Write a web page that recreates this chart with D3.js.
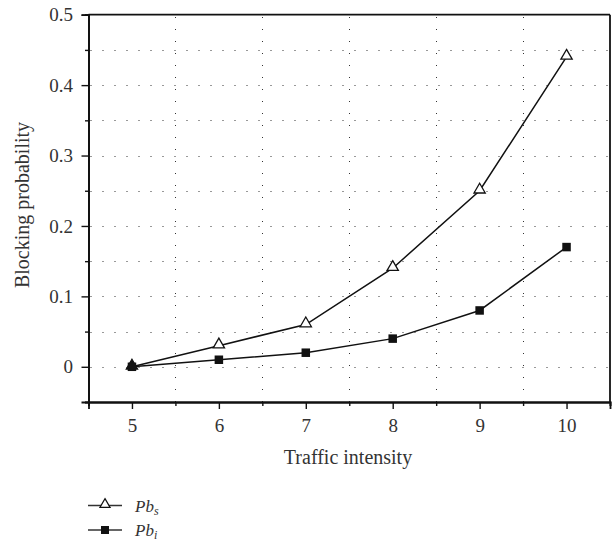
<!DOCTYPE html>
<html><head><meta charset="utf-8">
<script src="https://cdn.jsdelivr.net/npm/d3@7"></script>
<style>body{margin:0;background:#fff}svg{display:block}text{font-family:"Liberation Serif","Times New Roman",serif !important;fill:#333}</style>
</head><body><svg id="c" width="616" height="541"></svg>
<script>
const xValues = [5, 6, 7, 8, 9, 10];
const pbS = [0, 0.03, 0.06, 0.14, 0.25, 0.44];
const pbI = [0, 0.01, 0.02, 0.04, 0.08, 0.17];
const xTickLabels = ["5", "6", "7", "8", "9", "10"];
const yTickValues = [0, 0.1, 0.2, 0.3, 0.4, 0.5];
const yTickLabels = ["0", "0.1", "0.2", "0.3", "0.4", "0.5"];
const xMinor = [4.5, 5.5, 6.5, 7.5, 8.5, 9.5, 10.5];
const yMinor = [-0.05, 0.05, 0.15, 0.25, 0.35, 0.45];

const FONT = '"Liberation Serif","Times New Roman",serif';
const svg = d3.select("#c");
const L = 88.5, R = 610, T = 14.7, B = 402;
const x = d3.scaleLinear().domain([4.5, 10.5]).range([L, R]);
const y = d3.scaleLinear().domain([-0.05, 0.5]).range([B, T]);

// grid
const g = svg.append("g");
const hGrid = yMinor.concat(yTickValues).filter(v => v > -0.05 && v < 0.5);
g.selectAll(".hg").data(hGrid).join("line")
  .attr("x1", L + 2).attr("x2", R).attr("y1", d => Math.round(y(d)) + 0.5).attr("y2", d => Math.round(y(d)) + 0.5)
  .attr("stroke", "#333").attr("stroke-width", 1).attr("stroke-dasharray", "1,11");
g.selectAll(".vg").data(xMinor.filter(v => v > 4.5 && v < 10.5)).join("line")
  .attr("y1", B).attr("y2", T).attr("x1", d => Math.round(x(d)) + 0.5).attr("x2", d => Math.round(x(d)) + 0.5)
  .attr("stroke", "#333").attr("stroke-width", 1).attr("stroke-dasharray", "1,11");

// frame top/right
svg.append("line").attr("x1", L).attr("x2", R).attr("y1", T).attr("y2", T).attr("stroke", "#111").attr("stroke-width", 1.8);
svg.append("line").attr("x1", R).attr("x2", R).attr("y1", T).attr("y2", B).attr("stroke", "#111").attr("stroke-width", 1.8);

// axes
const xAxis = d3.axisBottom(x).tickValues(xValues).tickFormat((d, i) => xTickLabels[i]).tickSize(7).tickPadding(9.5);
svg.append("g").attr("class", "ax").attr("transform", `translate(0,${B})`).call(xAxis);
const xMinAxis = d3.axisBottom(x).tickValues(xMinor).tickFormat("").tickSize(4);
svg.append("g").attr("class", "ax").attr("transform", `translate(0,${B})`).call(xMinAxis);

const yAxis = d3.axisLeft(y).tickValues(yTickValues).tickFormat((d, i) => yTickLabels[i]).tickSize(7).tickPadding(8.5);
svg.append("g").attr("class", "ax").attr("transform", `translate(${L},0)`).call(yAxis);
const yMinAxis = d3.axisLeft(y).tickValues(yMinor.concat([0.5])).tickFormat("").tickSize(3.5);
svg.append("g").attr("class", "ax").attr("transform", `translate(${L},0)`).call(yMinAxis);

svg.selectAll(".ax").attr("font-family", FONT).attr("font-size", 19);
svg.selectAll(".domain").attr("stroke", "#111").attr("stroke-width", 1.8);
svg.selectAll(".tick line").attr("stroke", "#111").attr("stroke-width", 1.4);
svg.selectAll(".tick text").attr("font-family", FONT).attr("font-size", 19).style("font-size", "19px").attr("fill", "#333");

// axis titles
svg.append("text").attr("x", 348).attr("y", 464).attr("text-anchor", "middle").attr("font-family", FONT).style("font-size", "20px").text("Traffic intensity");
svg.append("text").attr("transform", "translate(29,205) rotate(-90)").attr("text-anchor", "middle").attr("font-family", FONT).style("font-size", "20px").text("Blocking probability");

// lines
const line = d3.line().x((d, i) => x(xValues[i])).y(d => y(d));
svg.append("path").attr("d", line(pbI)).attr("fill", "none").attr("stroke", "#111").attr("stroke-width", 1.5);
svg.append("path").attr("d", line(pbS)).attr("fill", "none").attr("stroke", "#111").attr("stroke-width", 1.5);

const tri = d3.symbol().type(d3.symbolTriangle).size(55);
svg.selectAll(".ts").data(pbS).join("path")
  .attr("d", tri).attr("transform", (d, i) => `translate(${x(xValues[i])},${y(d) - 1})`)
  .attr("fill", (d, i) => d === pbI[i] ? "#111" : "#fff").attr("stroke", "#111").attr("stroke-width", 1.3);
svg.selectAll(".sq").data(pbI).join("rect")
  .attr("x", (d, i) => x(xValues[i]) - 4.25).attr("y", d => y(d) - 4.25).attr("width", 8.5).attr("height", 8.5)
  .attr("fill", "#111");

// legend
const lg = svg.append("g");
const legendItems = [{sub: "s", type: "tri", yy: 505.5}, {sub: "i", type: "sq", yy: 530}];
legendItems.forEach(it => {
  lg.append("line").attr("x1", 88).attr("x2", 122).attr("y1", it.yy).attr("y2", it.yy).attr("stroke", "#333").attr("stroke-width", 1.4);
  if (it.type === "tri") {
    lg.append("path").attr("d", d3.symbol().type(d3.symbolTriangle).size(45)).attr("transform", `translate(105,${it.yy - 1})`).attr("fill", "#fff").attr("stroke", "#111").attr("stroke-width", 1.2);
  } else {
    lg.append("rect").attr("x", 101).attr("y", it.yy - 4).attr("width", 8).attr("height", 8).attr("fill", "#111");
  }
  const t = lg.append("text").attr("x", 135).attr("y", it.yy + 6).attr("font-family", FONT).style("font-size", "17px").style("font-style", "italic");
  t.append("tspan").text("Pb");
  t.append("tspan").attr("dy", 3).style("font-size", "12px").text(it.sub);
});
</script></body></html>
